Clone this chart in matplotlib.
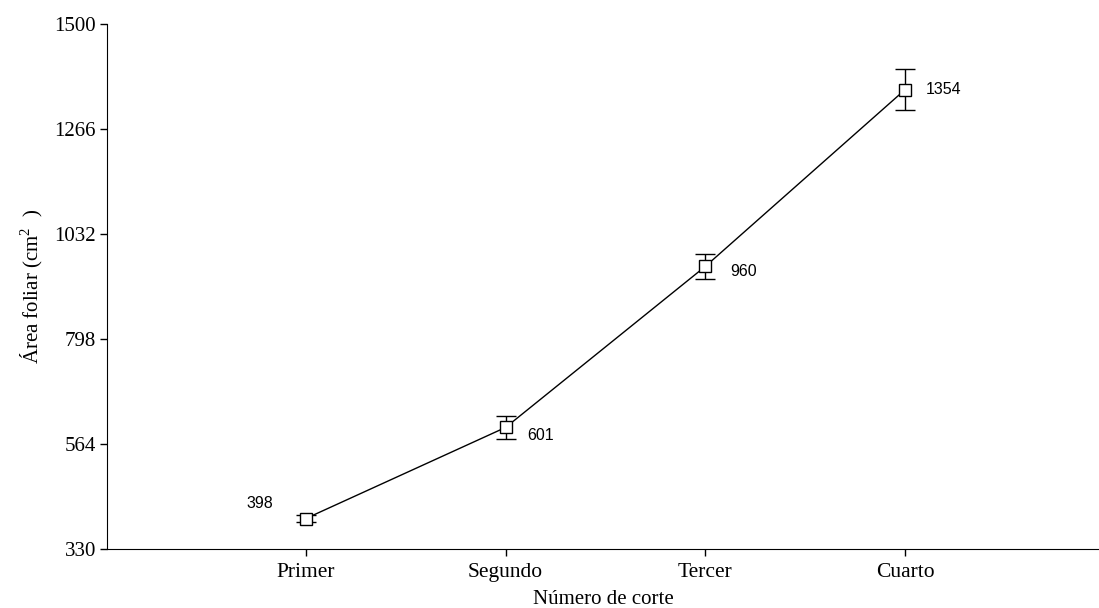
import numpy as np
import matplotlib.pyplot as plt

# Leaf area per cutting
cortes = ["Primer", "Segundo", "Tercer", "Cuarto"]
area = [398, 601, 960, 1354]
error = [8, 25, 28, 45]
yticks = [330, 564, 798, 1032, 1266, 1500]

serif = "Liberation Serif"
sans = "Liberation Sans"
plt.rcParams["mathtext.fontset"] = "custom"
plt.rcParams["mathtext.rm"] = serif

fig = plt.figure(figsize=(10.99, 6.08), dpi=100)
ax = fig.add_axes([0.0974, 0.097, 0.9026, 0.8635])

x = np.arange(1, len(cortes) + 1)
ax.errorbar(x, area, yerr=error, color="black", linewidth=1.0,
            elinewidth=1.0, capsize=7, capthick=1.0,
            marker="s", markersize=9, markerfacecolor="white",
            markeredgecolor="black", markeredgewidth=1.0, zorder=3)

# value labels next to each point
offsets = [(-0.23, 0.029), (0.175, -0.016), (0.19, -0.01), (0.19, 0.0)]
span = yticks[-1] - yticks[0]
for xi, yi, (dx, dy) in zip(x, area, offsets):
    ax.text(xi + dx, yi + dy * span, str(yi), fontsize=11.5, family=sans,
            ha="center", va="center")

ax.set_xlim(0.005, 4.97)
ax.set_ylim(yticks[0], yticks[-1])
ax.set_xticks(x)
ax.set_xticklabels(cortes, fontsize=15.5, family=serif)
ax.set_yticks(yticks)
ax.set_yticklabels([str(t) for t in yticks], fontsize=15, family=serif)
ax.tick_params(direction="out", length=5, width=1.0, pad=3)
ax.tick_params(axis="x", pad=5)

ax.spines["top"].set_visible(False)
ax.spines["right"].set_visible(False)

ax.set_xlabel("Número de corte", fontsize=15, family=serif, labelpad=6)
ax.set_ylabel(r"Área foliar (cm$^{\mathrm{2}}$  )", fontsize=15, family=serif,
              labelpad=7)

fig.savefig("out.png", dpi=100)
